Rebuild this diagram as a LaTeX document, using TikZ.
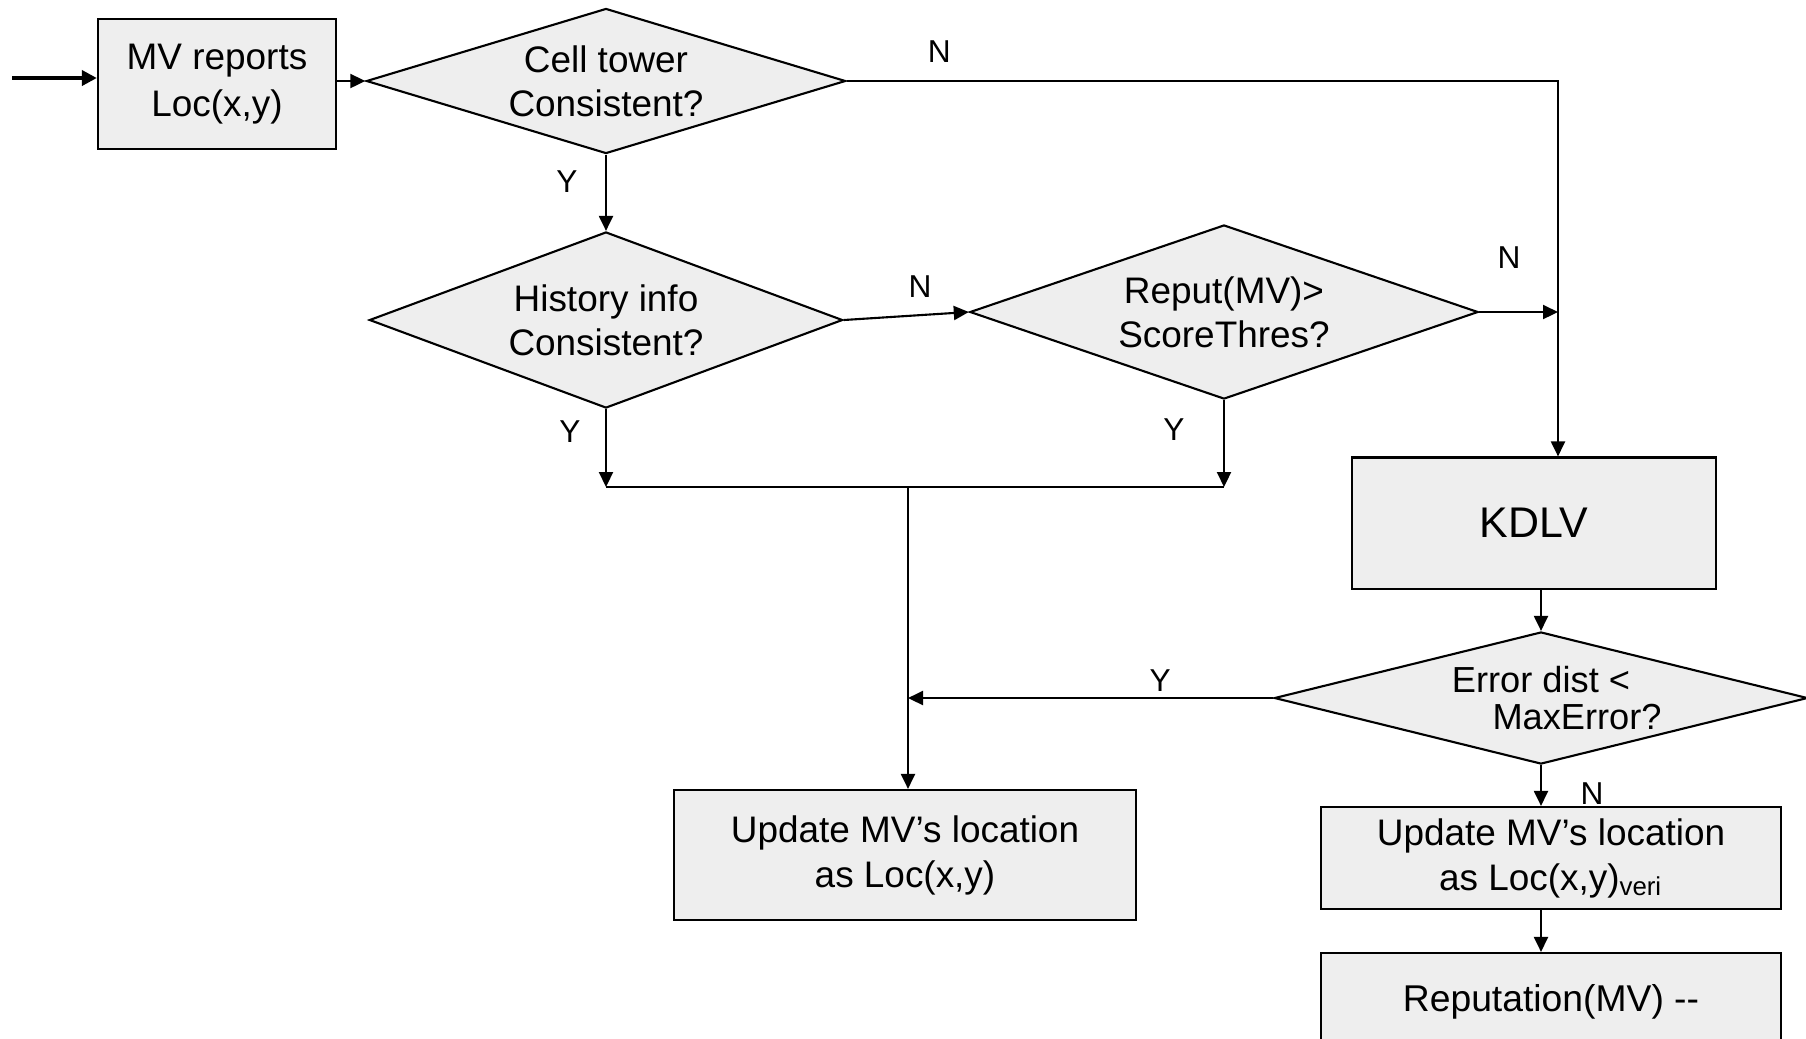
\documentclass[tikz,border=0pt]{standalone}
\usepackage{fontspec}
\setmainfont{Liberation Sans}
\usetikzlibrary{shapes.geometric,positioning,arrows.meta}
\definecolor{boxgray}{HTML}{EEEEEE}

\begin{document}
\begin{tikzpicture}[x=0.01cm, y=-0.01cm, line width=0.6pt,
    every node/.style={font=\fontsize{10.5}{12.5}\selectfont},
    block/.style={draw, fill=boxgray, rectangle, align=center, inner sep=0pt},
    decision/.style={draw, fill=boxgray, diamond, align=center, inner sep=0pt},
    flow/.style={-{Triangle[length=0.15cm, width=0.14cm]}},
    yn/.style={font=\fontsize{9}{10}\selectfont, inner sep=1pt}]

    \useasboundingbox (0,0) rectangle (1806,1038);
    \clip (0,0) rectangle (1806,1038);

    \node[block, minimum width=2.38cm, minimum height=1.30cm, font=\fontsize{10.5}{13.2}\selectfont] (report) at (217,84) {MV reports\\Loc(x,y)};
    \node[decision, aspect=3.3, minimum width=4.79cm, minimum height=1.45cm] (cell) at (606,81) {Cell tower\\Consistent?};
    \node[decision, aspect=2.7, minimum width=4.73cm, minimum height=1.76cm] (hist) at (606,320) {History info\\Consistent?};
    \node[decision, aspect=2.9, minimum width=5.08cm, minimum height=1.74cm] (rep) at (1224,312) {Reput(MV)>\\ScoreThres?};
    \node[block, minimum width=3.64cm, minimum height=1.31cm, font=\fontsize{12.2}{14}\selectfont] (kdlv) at (1534,523) {KDLV};
    \node[decision, aspect=4, minimum width=5.33cm, minimum height=1.32cm, font=\fontsize{10.3}{10.5}\selectfont] (err) at (1541,698) {Error dist <\\\hspace*{0.72cm}MaxError?};
    \node[block, minimum width=4.61cm, minimum height=1.30cm, font=\fontsize{10.5}{12.8}\selectfont] (upd) at (905,855) {Update MV’s location\\as Loc(x,y)};
    \node[block, minimum width=4.60cm, minimum height=1.02cm, font=\fontsize{10.5}{12.8}\selectfont] (updveri) at (1551,858) {Update MV’s location\\as Loc(x,y)\textsubscript{veri}};
    \node[block, minimum width=4.60cm, minimum height=0.98cm, font=\fontsize{10.6}{12}\selectfont] (penal) at (1551,1002) {Reputation(MV) -{}-};

    \coordinate (in) at (12,78);
    \coordinate (jn) at (1558,81);
    \coordinate (merge) at (908,487);

    \draw[-{Triangle[length=0.15cm, width=0.15cm]}, line width=1.3pt] (in) -- (in -| report.west);
    \draw[flow] (report.east |- cell.west) -- (cell.west);
    \draw[flow] (cell.east) -- node[yn, pos=.13, above=0.14cm] {N} (jn) -- (jn |- kdlv.north);
    \draw[flow] (cell.south) -- node[yn, pos=.36, left=0.24cm] {Y} (hist.north);
    \draw[flow] (hist.east) -- node[yn, pos=.61, above=0.13cm] {N} (rep.west);
    \draw[flow] (rep.east) -- node[yn, pos=.38, above=0.39cm] {N} (rep.east -| jn);
    \draw[flow] (hist.south) -- node[yn, pos=.29, left=0.21cm] {Y} (hist.south |- merge);
    \draw[flow] (rep.south) -- node[yn, pos=.34, left=0.35cm] {Y} (rep.south |- merge);
    \draw (hist.south |- merge) -- (rep.south |- merge);
    \draw[flow] (merge) -- (merge |- upd.north);
    \draw[flow] (err.north |- kdlv.south) -- (err.north);
    \draw[flow] (err.west) -- node[yn, pos=.31, above=0.02cm] {Y} (err.west -| merge);
    \draw[flow] (err.south) -- node[yn, pos=.7, right=0.35cm] {N} (err.south |- updveri.north);
    \draw[flow] (err.south |- updveri.south) -- (err.south |- penal.north);

\end{tikzpicture}
\end{document}
